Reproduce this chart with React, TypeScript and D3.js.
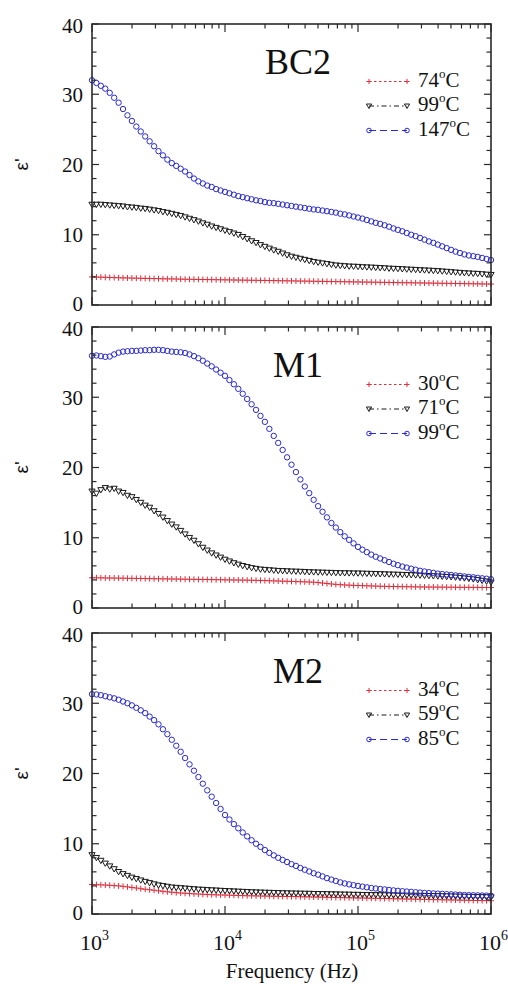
import React from "react";
import * as d3 from "d3";

// Frequency sweep: 30 points per decade, 10^3 .. 10^6 Hz
const frequencies = d3.range(91).map((i) => Math.pow(10, 3 + i / 30));

// BC2
const bc2_74 = [
  4.0, 3.98, 3.96, 3.94, 3.92, 3.9, 3.88, 3.86, 3.85, 3.83, 3.82, 3.8, 3.79, 3.77, 3.76,
  3.75, 3.73, 3.72, 3.71, 3.7, 3.68, 3.67, 3.66, 3.65, 3.64, 3.63, 3.62, 3.61, 3.6, 3.59,
  3.58, 3.57, 3.56, 3.55, 3.54, 3.53, 3.52, 3.51, 3.5, 3.49, 3.48, 3.47, 3.46, 3.45, 3.44,
  3.43, 3.42, 3.41, 3.4, 3.39, 3.38, 3.37, 3.36, 3.35, 3.34, 3.33, 3.32, 3.31, 3.3, 3.29,
  3.28, 3.27, 3.26, 3.25, 3.24, 3.23, 3.22, 3.21, 3.2, 3.19, 3.18, 3.17, 3.16, 3.15, 3.14,
  3.13, 3.12, 3.11, 3.1, 3.09, 3.08, 3.07, 3.06, 3.05, 3.04, 3.03, 3.02, 3.01, 3.0, 2.99,
  2.98,
];
const bc2_99 = [
  14.3, 14.3, 14.3, 14.25, 14.2, 14.15, 14.1, 14.05, 13.95, 13.9, 13.85, 13.75, 13.7, 13.6, 13.5,
  13.4, 13.25, 13.15, 13.0, 12.85, 12.7, 12.5, 12.3, 12.1, 11.9, 11.65, 11.45, 11.2, 11.0, 10.8,
  10.6, 10.4, 10.2, 10.0, 9.7, 9.4, 9.1, 8.85, 8.55, 8.3, 8.05, 7.8, 7.6, 7.35, 7.1,
  6.9, 6.75, 6.6, 6.45, 6.3, 6.15, 6.05, 5.95, 5.85, 5.75, 5.65, 5.6, 5.55, 5.5, 5.48,
  5.45, 5.4, 5.38, 5.35, 5.32, 5.28, 5.25, 5.2, 5.18, 5.15, 5.12, 5.08, 5.05, 5.02, 4.98,
  4.95, 4.92, 4.88, 4.85, 4.8, 4.75, 4.7, 4.65, 4.6, 4.55, 4.52, 4.48, 4.45, 4.4, 4.35,
  4.3,
];
const bc2_147 = [
  32.0, 31.6, 31.2, 30.8, 30.2, 29.5, 28.8, 27.9, 27.0, 26.2, 25.4, 24.7, 24.0, 23.3, 22.6,
  21.9, 21.3, 20.7, 20.2, 19.8, 19.4, 19.0, 18.5, 18.0, 17.6, 17.3, 17.0, 16.8, 16.5, 16.3,
  16.1, 15.9, 15.7, 15.5, 15.35, 15.2, 15.05, 14.9, 14.8, 14.65, 14.55, 14.5, 14.4, 14.3, 14.2,
  14.1, 14.0, 13.9, 13.8, 13.7, 13.6, 13.55, 13.45, 13.35, 13.25, 13.15, 13.0, 12.9, 12.75, 12.6,
  12.45, 12.3, 12.1, 11.9, 11.7, 11.55, 11.35, 11.15, 10.9, 10.7, 10.5, 10.25, 10.0, 9.8, 9.55,
  9.3, 9.05, 8.85, 8.6, 8.35, 8.1, 7.85, 7.6, 7.4, 7.2, 7.05, 6.95, 6.85, 6.7, 6.55,
  6.4,
];

// M1
const m1_30 = [
  4.3, 4.3, 4.29, 4.28, 4.27, 4.26, 4.25, 4.24, 4.23, 4.22, 4.21, 4.2, 4.19, 4.18, 4.17,
  4.16, 4.15, 4.14, 4.13, 4.12, 4.11, 4.1, 4.09, 4.08, 4.07, 4.06, 4.05, 4.04, 4.03, 4.02,
  4.01, 4.0, 3.99, 3.98, 3.97, 3.96, 3.95, 3.94, 3.92, 3.9, 3.88, 3.86, 3.84, 3.82, 3.8,
  3.78, 3.76, 3.74, 3.72, 3.7, 3.67, 3.62, 3.55, 3.48, 3.42, 3.36, 3.32, 3.28, 3.25, 3.22,
  3.2, 3.18, 3.16, 3.14, 3.12, 3.1, 3.08, 3.07, 3.06, 3.05, 3.04, 3.03, 3.02, 3.01, 3.0,
  2.99, 2.98, 2.98, 2.97, 2.97, 2.96, 2.96, 2.95, 2.95, 2.94, 2.94, 2.93, 2.93, 2.92, 2.92,
  2.91,
];
const m1_71 = [
  16.6, 16.3, 16.8, 17.1, 16.9, 17.0, 16.6, 16.4, 16.0, 15.8, 15.4, 15.0, 14.6, 14.3, 13.8,
  13.4, 12.9, 12.4, 11.9, 11.5, 11.0, 10.5, 10.0, 9.6, 9.1, 8.6, 8.2, 7.8, 7.5, 7.2,
  6.9, 6.65, 6.4, 6.2, 6.0, 5.85, 5.7, 5.6, 5.5, 5.45, 5.4, 5.35, 5.3, 5.28, 5.25,
  5.22, 5.2, 5.18, 5.15, 5.12, 5.1, 5.08, 5.06, 5.04, 5.02, 5.0, 4.98, 4.97, 4.96, 4.95,
  4.94, 4.92, 4.9, 4.88, 4.86, 4.84, 4.82, 4.8, 4.78, 4.76, 4.74, 4.72, 4.7, 4.67, 4.64,
  4.61, 4.58, 4.55, 4.52, 4.48, 4.44, 4.4, 4.35, 4.3, 4.24, 4.17, 4.1, 4.0, 3.9, 3.8,
  3.65,
];
const m1_99 = [
  35.9, 35.95, 35.85, 35.75, 35.8, 36.1, 36.35, 36.5, 36.55, 36.6, 36.6, 36.65, 36.7, 36.7, 36.75,
  36.75, 36.7, 36.6, 36.5, 36.45, 36.4, 36.3, 36.1, 35.85, 35.55, 35.2, 34.8, 34.4, 33.95, 33.5,
  33.05, 32.45, 31.85, 31.2, 30.5, 29.75, 29.0, 28.2, 27.35, 26.5, 25.5, 24.5, 23.5, 22.5, 21.45,
  20.4, 19.35, 18.3, 17.3, 16.35, 15.4, 14.5, 13.7, 12.9, 12.1, 11.45, 10.8, 10.2, 9.7, 9.2,
  8.7, 8.3, 7.95, 7.6, 7.3, 7.05, 6.8, 6.55, 6.3, 6.1, 5.9, 5.75, 5.6, 5.45, 5.3,
  5.2, 5.1, 5.0, 4.9, 4.83, 4.77, 4.7, 4.63, 4.57, 4.5, 4.43, 4.37, 4.3, 4.23, 4.17,
  4.1,
];

// M2
const m2_34 = [
  4.2, 4.18, 4.15, 4.12, 4.08, 4.04, 4.0, 3.94, 3.86, 3.78, 3.7, 3.6, 3.52, 3.45, 3.38,
  3.3, 3.23, 3.16, 3.1, 3.04, 2.99, 2.95, 2.91, 2.87, 2.84, 2.81, 2.78, 2.75, 2.73, 2.71,
  2.7, 2.68, 2.66, 2.64, 2.62, 2.6, 2.59, 2.58, 2.56, 2.55, 2.54, 2.52, 2.51, 2.5, 2.49,
  2.48, 2.47, 2.45, 2.44, 2.43, 2.41, 2.4, 2.39, 2.37, 2.36, 2.35, 2.33, 2.32, 2.31, 2.29,
  2.28, 2.27, 2.25, 2.24, 2.23, 2.21, 2.2, 2.19, 2.17, 2.16, 2.15, 2.13, 2.12, 2.11, 2.09,
  2.08, 2.07, 2.05, 2.04, 2.03, 2.01, 2.0, 1.99, 1.97, 1.96, 1.95, 1.93, 1.92, 1.91, 1.9,
  1.89,
];
const m2_59 = [
  8.4, 8.0, 7.6, 7.2, 6.8, 6.4, 6.0, 5.7, 5.45, 5.2, 5.0, 4.8, 4.6, 4.42, 4.25,
  4.1, 4.0, 3.9, 3.8, 3.75, 3.7, 3.65, 3.6, 3.55, 3.5, 3.47, 3.43, 3.4, 3.37, 3.33,
  3.3, 3.27, 3.24, 3.21, 3.18, 3.15, 3.12, 3.1, 3.08, 3.06, 3.04, 3.02, 3.0, 2.98, 2.97,
  2.95, 2.94, 2.92, 2.91, 2.9, 2.88, 2.87, 2.86, 2.84, 2.83, 2.82, 2.8, 2.79, 2.78, 2.76,
  2.75, 2.74, 2.73, 2.72, 2.71, 2.7, 2.69, 2.68, 2.67, 2.66, 2.65, 2.64, 2.63, 2.62, 2.61,
  2.6, 2.59, 2.58, 2.57, 2.56, 2.55, 2.53, 2.52, 2.5, 2.49, 2.47, 2.46, 2.44, 2.43, 2.42,
  2.4,
];
const m2_85 = [
  31.3, 31.25, 31.15, 31.0, 30.85, 30.7, 30.5, 30.25, 30.0, 29.7, 29.35, 29.0, 28.6, 28.1, 27.6,
  27.0, 26.3, 25.6, 24.8, 23.95, 23.1, 22.2, 21.3, 20.4, 19.5, 18.55, 17.6, 16.7, 15.8, 14.95,
  14.1, 13.45, 12.8, 12.2, 11.6, 11.05, 10.5, 10.0, 9.55, 9.1, 8.7, 8.35, 8.0, 7.7, 7.4,
  7.1, 6.85, 6.55, 6.3, 6.05, 5.8, 5.6, 5.35, 5.1, 4.9, 4.7, 4.5, 4.35, 4.22, 4.1,
  4.0, 3.9, 3.8, 3.7, 3.63, 3.56, 3.5, 3.43, 3.36, 3.3, 3.25, 3.2, 3.15, 3.1, 3.05,
  3.0, 2.97, 2.93, 2.9, 2.87, 2.83, 2.8, 2.77, 2.73, 2.7, 2.68, 2.67, 2.65, 2.63, 2.62,
  2.6,
];

const panelTitles = ["BC2", "M1", "M2"];
const panelTemps = [
  ["74", "99", "147"],
  ["30", "71", "99"],
  ["34", "59", "85"],
];
const panelData = [
  [bc2_74, bc2_99, bc2_147],
  [m1_30, m1_71, m1_99],
  [m2_34, m2_59, m2_85],
];
const yTickValues = [0, 10, 20, 30, 40];
const xTickExponents = [3, 4, 5, 6];

const SERIF = "'Liberation Serif', 'Times New Roman', serif";
const SANS = "'Liberation Sans', Arial, sans-serif";
const COLORS = ["#dc2f3c", "#1a1a1a", "#2a2ad2"];
const KINDS = ["plus", "tri", "circle"];
const DASHES = ["2.5,2.5", "5,3,1.5,3", "7,4"];

const W = 508;
const H = 992;
const X0 = 92;
const X1 = 491;
const PANEL_TOPS = [24, 327, 633];
const PANEL_H = 281;

const x = d3.scaleLog().domain([1e3, 1e6]).range([X0, X1]);

function Marker({ kind, cx, cy, color, s = 1 }) {
  if (kind === "plus") {
    const r = 3 * s;
    return (
      <path
        d={`M${cx - r},${cy}H${cx + r}M${cx},${cy - r}V${cy + r}`}
        stroke={color}
        strokeWidth={1}
        fill="none"
      />
    );
  }
  if (kind === "tri") {
    const r = 3.1 * s;
    return (
      <path
        d={`M${cx - r},${cy - r * 0.75}L${cx + r},${cy - r * 0.75}L${cx},${cy + r * 0.95}Z`}
        stroke={color}
        strokeWidth={1}
        fill="none"
      />
    );
  }
  return <circle cx={cx} cy={cy} r={2.7 * s} stroke={color} strokeWidth={1} fill="none" />;
}

function Panel({ idx }) {
  const top = PANEL_TOPS[idx];
  const bottom = top + PANEL_H;
  const y = d3.scaleLinear().domain([0, 40]).range([bottom, top]);
  const xTicks = x.ticks();
  const yTicks = d3.range(0, 41, 2);
  const isLast = idx === PANEL_TOPS.length - 1;
  return (
    <g>
      {/* data */}
      {panelData[idx].map((series, si) => (
        <g key={si}>
          {series.map((v, i) => (
            <Marker
              key={i}
              kind={KINDS[si]}
              cx={x(frequencies[i])}
              cy={y(v)}
              color={COLORS[si]}
            />
          ))}
        </g>
      ))}
      {/* frame */}
      <rect x={X0} y={top} width={X1 - X0} height={PANEL_H} fill="none" stroke="#2a2a2a" strokeWidth={1.6} />
      {/* x ticks */}
      {xTicks.map((t, i) => {
        const major = Math.abs(Math.log10(t) - Math.round(Math.log10(t))) < 1e-9;
        const len = major ? 8 : 4.5;
        const px = x(t);
        return (
          <g key={i} stroke="#2a2a2a" strokeWidth={1.2}>
            <line x1={px} x2={px} y1={bottom} y2={bottom - len} />
            <line x1={px} x2={px} y1={top} y2={top + len} />
          </g>
        );
      })}
      {/* y ticks */}
      {yTicks.map((t) => {
        const major = t % 10 === 0;
        const len = major ? 7 : 4.5;
        const py = y(t);
        return (
          <g key={t} stroke="#2a2a2a" strokeWidth={1.2}>
            <line x1={X0} x2={X0 + len} y1={py} y2={py} />
            <line x1={X1} x2={X1 - len} y1={py} y2={py} />
          </g>
        );
      })}
      {yTickValues.map((t) => {
        const nudge = t === 0 ? -1.5 : t === 40 ? 1.5 : 0;
        return (
          <text
            key={t}
            x={83}
            y={y(t) + 7.5 + nudge}
            textAnchor="end"
            fontFamily={SERIF}
            fontSize={21}
            fill="#111"
          >
            {t}
          </text>
        );
      })}
      {/* y label */}
      <text
        transform={`translate(28,${(top + bottom) / 2}) rotate(-90)`}
        textAnchor="middle"
        fontFamily={SANS}
        fontSize={19}
        fill="#111"
      >
        ε'
      </text>
      {/* title */}
      <text x={298} y={top + 50} textAnchor="middle" fontFamily={SERIF} fontSize={36} fill="#111">
        {panelTitles[idx]}
      </text>
      {/* legend */}
      {panelTemps[idx].map((temp, li) => {
        const base = top + 62.5 + li * 24.5;
        const ly = base - 5;
        return (
          <g key={li}>
            <line
              x1={369}
              x2={407}
              y1={ly}
              y2={ly}
              stroke={COLORS[li]}
              strokeWidth={1}
              strokeDasharray={DASHES[li]}
            />
            <Marker kind={KINDS[li]} cx={369} cy={ly} color={COLORS[li]} s={0.85} />
            <Marker kind={KINDS[li]} cx={407} cy={ly} color={COLORS[li]} s={0.85} />
            <text x={418} y={base} fontFamily={SERIF} fontSize={21} fill="#111">
              {temp}
              <tspan fontSize={13} dy={-9}>
                o
              </tspan>
              <tspan dy={9}>C</tspan>
            </text>
          </g>
        );
      })}
      {/* x tick labels */}
      {isLast &&
        xTickExponents.map((e) => (
          <text
            key={e}
            x={x(Math.pow(10, e)) - 12}
            y={950}
            fontFamily={SERIF}
            fontSize={22}
            fill="#111"
          >
            10
            <tspan fontSize={14} dy={-10}>
              {e}
            </tspan>
          </text>
        ))}
    </g>
  );
}

export default function App() {
  return (
    <svg width={W} height={H} style={{ display: "block", position: "absolute", left: 0, top: 0, background: "#fff" }}>
      <rect width={W} height={H} fill="#fff" />
      {PANEL_TOPS.map((_, i) => (
        <Panel key={i} idx={i} />
      ))}
      <text x={292} y={978} textAnchor="middle" fontFamily={SERIF} fontSize={21} fill="#111">
        Frequency (Hz)
      </text>
    </svg>
  );
}
